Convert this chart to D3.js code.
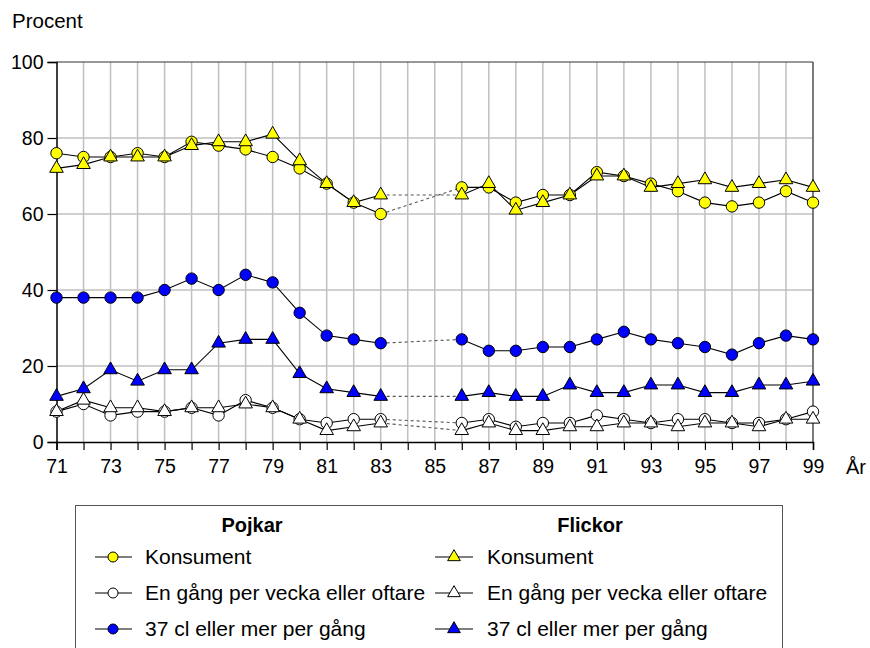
<!DOCTYPE html>
<html><head><meta charset="utf-8">
<script src="https://cdn.jsdelivr.net/npm/d3@7"></script>
<style>body{margin:0;background:#fff}svg{display:block;font-family:"Liberation Sans",Arial,sans-serif}</style>
</head><body><svg id="c" width="870" height="648"></svg>
<script>
const years = [71,72,73,74,75,76,77,78,79,80,81,82,83,86,87,88,89,90,91,92,93,94,95,96,97,98,99];
const pojkarKonsument = [76,75,75,76,75,79,78,77,75,72,68,63,60, 67,67,63,65,65,71,70,68,66,63,62,63,66,63];
const flickorKonsument = [72,73,75,75,75,78,79,79,81,74,68,63,65, 65,68,61,63,65,70,70,67,68,69,67,68,69,67];
const pojkarVecka = [8,10,7,8,8,9,7,11,9,6,5,6,6, 5,6,4,5,5,7,6,5,6,6,5,5,6,8];
const flickorVecka = [8,11,9,9,8,9,9,10,9,6,3,4,5, 3,5,3,3,4,4,5,5,4,5,5,4,6,6];
const pojkar37 = [38,38,38,38,40,43,40,44,42,34,28,27,26, 27,24,24,25,25,27,29,27,26,25,23,26,28,27];
const flickor37 = [12,14,19,16,19,19,26,27,27,18,14,13,12, 12,13,12,12,15,13,13,15,15,13,13,15,15,16];
const yTicks = [0,20,40,60,80,100];
const xLabelYears = [71,73,75,77,79,81,83,85,87,89,91,93,95,97,99];
const groupTitles = ["Pojkar","Flickor"];
const seriesNames = ["Konsument","En gång per vecka eller oftare","37 cl eller mer per gång"];

const series = [
  {name: seriesNames[0], group: 0, values: pojkarKonsument, shape: "circle", fill: "#ffff00"},
  {name: seriesNames[0], group: 1, values: flickorKonsument, shape: "triangle", fill: "#ffff00"},
  {name: seriesNames[1], group: 0, values: pojkarVecka, shape: "circle", fill: "#ffffff"},
  {name: seriesNames[1], group: 1, values: flickorVecka, shape: "triangle", fill: "#ffffff"},
  {name: seriesNames[2], group: 0, values: pojkar37, shape: "circle", fill: "#0000ff"},
  {name: seriesNames[2], group: 1, values: flickor37, shape: "triangle", fill: "#0000ff"}
];

const svg = d3.select("#c");
const x = d3.scaleLinear().domain([71,99]).range([56.5,813]);
const y = d3.scaleLinear().domain([0,100]).range([442,62]);

const allYears = d3.range(71,100);
svg.append("g").selectAll("line").data(allYears.slice(1)).join("line")
  .attr("x1",d=>x(d)).attr("x2",d=>x(d)).attr("y1",y(0)).attr("y2",y(100))
  .attr("stroke","#c0c0c0").attr("stroke-width",1.5);
svg.append("g").selectAll("line").data(yTicks.slice(1,-1)).join("line")
  .attr("x1",x(71)).attr("x2",x(99)).attr("y1",d=>y(d)).attr("y2",d=>y(d))
  .attr("stroke","#c0c0c0").attr("stroke-width",1.5);
svg.append("line").attr("x1",x(71)).attr("x2",x(99)).attr("y1",y(100)).attr("y2",y(100)).attr("stroke","#333").attr("stroke-width",1.2);
svg.append("line").attr("x1",x(99)).attr("x2",x(99)).attr("y1",y(100)).attr("y2",y(0)).attr("stroke","#444").attr("stroke-width",1.2);

const xAxis = d3.axisBottom(x).tickValues(allYears).tickSize(8).tickPadding(9)
  .tickFormat(d=> xLabelYears.includes(d) ? String(d) : "");
const gx = svg.append("g").attr("transform",`translate(0,${y(0)})`).call(xAxis);
gx.select(".domain").attr("stroke","#000").attr("stroke-width",1.5);
gx.selectAll(".tick line").attr("stroke","#000").attr("stroke-width",1.2);
gx.selectAll("text").attr("font-size",19.5).attr("fill","#000").attr("font-family","Liberation Sans, Arial, sans-serif");

const yAxis = d3.axisLeft(y).tickValues(yTicks).tickSize(9).tickPadding(4);
const gy = svg.append("g").attr("transform",`translate(${x(71)},0)`).call(yAxis);
gy.select(".domain").attr("stroke","#000").attr("stroke-width",1.5);
gy.selectAll(".tick line").attr("stroke","#000").attr("stroke-width",1.2);
gy.selectAll("text").attr("font-size",19.5).attr("fill","#000").attr("font-family","Liberation Sans, Arial, sans-serif");

svg.append("text").attr("x",12).attr("y",28).attr("font-size",20.5).text("Procent");
svg.append("text").attr("x",846).attr("y",474).attr("font-size",20).text("År");

const line = d3.line().x(d=>x(d.year)).y(d=>y(d.v));
series.forEach(s=>{
  const pts = years.map((yr,i)=>({year:yr, v:s.values[i]}));
  const segs = [];
  let cur = [pts[0]];
  for (let i=1;i<pts.length;i++){
    if (pts[i].year - pts[i-1].year > 1){
      segs.push({pts:cur, dotted:false});
      segs.push({pts:[pts[i-1],pts[i]], dotted:true});
      cur = [pts[i]];
    } else cur.push(pts[i]);
  }
  segs.push({pts:cur, dotted:false});
  segs.forEach(sg=>{
    svg.append("path").attr("d",line(sg.pts)).attr("fill","none")
      .attr("stroke", sg.dotted ? "#555" : "#000")
      .attr("stroke-width",1.1)
      .attr("stroke-dasharray", sg.dotted ? "3,3" : null);
  });
});

const triSym = d3.symbol().type(d3.symbolTriangle).size(80);
function marker(g, shape, fill, cx, cy){
  if (shape==="circle"){
    g.append("circle").attr("cx",cx).attr("cy",cy).attr("r",5.7)
      .attr("fill",fill).attr("stroke","#000").attr("stroke-width",1);
  } else {
    g.append("path").attr("d",triSym()).attr("transform",`translate(${cx},${cy})`)
      .attr("fill",fill).attr("stroke","#000").attr("stroke-width",1);
  }
}
series.forEach(s=>{
  const g = svg.append("g");
  years.forEach((yr,i)=> marker(g, s.shape, s.fill, x(yr), y(s.values[i])));
});

const lg = svg.append("g");
lg.append("rect").attr("x",75.5).attr("y",505.5).attr("width",707).attr("height",160)
  .attr("fill","#fff").attr("stroke","#555").attr("stroke-width",1);
const colX = [{line0:95, line1:132, mk:113, tx:145, title:252},{line0:435, line1:473, mk:454, tx:487, title:590}];
groupTitles.forEach((t,gi)=>{
  lg.append("text").attr("x",colX[gi].title).attr("y",532).attr("text-anchor","middle")
    .attr("font-size",20).attr("font-weight","bold").text(t);
});
const rowY = [557,593,629];
series.forEach((s,si)=>{
  const row = Math.floor(si/2), c = colX[s.group];
  const ry = rowY[row];
  lg.append("line").attr("x1",c.line0).attr("x2",c.line1).attr("y1",ry).attr("y2",ry)
    .attr("stroke","#000").attr("stroke-width",1.1);
  if (s.shape==="circle"){
    lg.append("circle").attr("cx",c.mk).attr("cy",ry).attr("r",5)
      .attr("fill",s.fill).attr("stroke","#000").attr("stroke-width",1);
  } else {
    lg.append("path").attr("d",d3.symbol().type(d3.symbolTriangle).size(70)()).attr("transform",`translate(${c.mk},${ry})`)
      .attr("fill",s.fill).attr("stroke","#000").attr("stroke-width",1);
  }
  lg.append("text").attr("x",c.tx).attr("y",ry+7).attr("font-size",21).text(s.name);
});
</script></body></html>
